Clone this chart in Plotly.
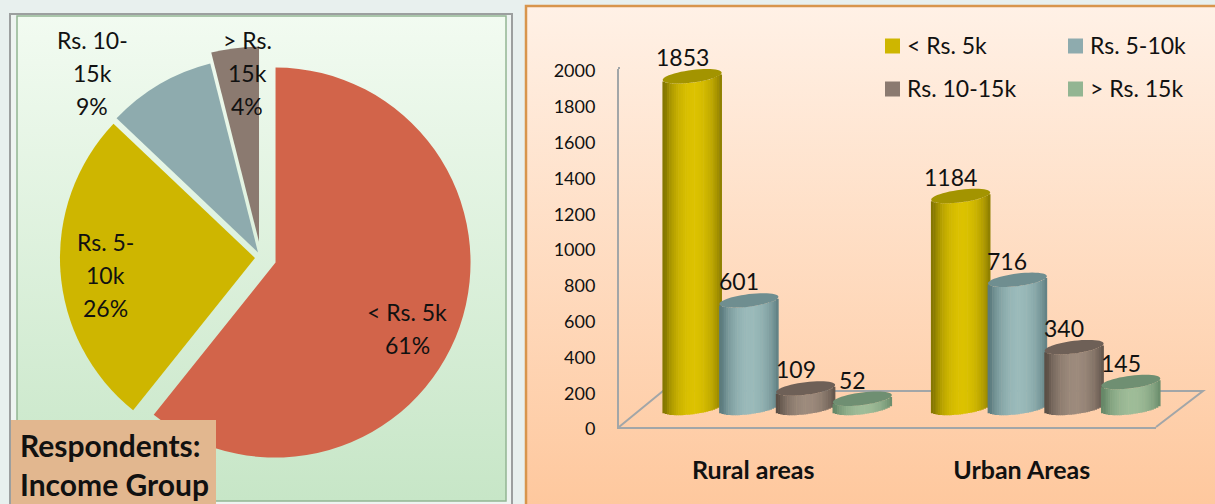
import base64
import math
import plotly.graph_objects as go

# ---------- data ----------
categories = ["Rural areas", "Urban Areas"]
income_groups = ["< Rs. 5k", "Rs. 5-10k", "Rs. 10-15k", "> Rs. 15k"]
rural_values = [1853, 601, 109, 52]
urban_values = [1184, 716, 340, 145]
y_ticks = [0, 200, 400, 600, 800, 1000, 1200, 1400, 1600, 1800, 2000]

pie_slice_colors = ["#D2644A", "#CEB600", "#8EABAE", "#8B7A70"]
bar_edge_colors = ["#857700", "#5B7B7E", "#5B4F46", "#668868"]
bar_mid_colors = ["#DCC200", "#9ABABA", "#9C8A7C", "#9EBC98"]
bar_top_colors = ["#A39400", "#6F8E90", "#6E6057", "#6F8F72"]
legend_colors = ["#CEB600", "#8EABAE", "#8B7A70", "#93B592"]
pie_pulls = [0.079, 0.031, 0.030, 0.082]

W, H = 1215, 504
TEXT = "#111111"
FONT = "Lato"
AXIS_COLOR = "#A2A6A8"


def px(x):
    return x / W


def py(y):
    return 1 - y / H


# ---------- background panels ----------
svg = f"""<svg xmlns="http://www.w3.org/2000/svg" width="{W}" height="{H}">
<defs>
<linearGradient id="g" x1="0" y1="0" x2="0" y2="1"><stop offset="0" stop-color="#F2FBF1"/><stop offset="1" stop-color="#C7E6C7"/></linearGradient>
<linearGradient id="o" x1="0" y1="0" x2="0" y2="1"><stop offset="0" stop-color="#FFF1E6"/><stop offset="1" stop-color="#FEC79C"/></linearGradient>
</defs>
<rect width="{W}" height="{H}" fill="#E8F0EE"/>
<rect x="10" y="14" width="502" height="500" fill="#EEF4F1" stroke="#9C9F9F" stroke-width="2"/>
<rect x="17" y="16" width="489" height="485" fill="url(#g)" stroke="#93B593" stroke-width="1.5"/>
<rect x="526" y="6" width="700" height="510" fill="url(#o)" stroke="#D8954C" stroke-width="2.5"/>
</svg>"""
bg_uri = "data:image/svg+xml;base64," + base64.b64encode(svg.encode()).decode()

fig = go.Figure()

# ---------- pie ----------
totals = [r + u for r, u in zip(rural_values, urban_values)]
pie_r = 195 * (1 + max(pie_pulls))
pie_cx, pie_cy = 261, 257.5
fig.add_trace(go.Pie(
    labels=income_groups, values=totals, sort=False, direction="clockwise", rotation=0,
    pull=pie_pulls, marker=dict(colors=pie_slice_colors, line=dict(width=0)),
    textinfo="none", hoverinfo="label+percent", showlegend=False,
    domain=dict(x=[px(pie_cx - pie_r), px(pie_cx + pie_r)],
                y=[py(pie_cy + pie_r), py(pie_cy - pie_r)]),
))

# ---------- axes geometry ----------
AX_L, AX_R, AX_B, AX_T = 619, 1156, 427, 69   # front plane in pixels
SHIFT_X, SHIFT_Y = 24, 19                     # depth offset of the bars
PX_PER_UNIT_Y = (AX_B - AX_T) / 2000
PX_PER_UNIT_X = (AX_R - AX_L) / 2
Y2_PAD = 200
STEP = 56.7 / PX_PER_UNIT_X
RADIUS = 29.5 / PX_PER_UNIT_X
MINOR = 6.3 / PX_PER_UNIT_Y
RISE = 3.6 / PX_PER_UNIT_Y
N_STRIPS = 26

# axis-holding trace for the visible front plane
fig.add_trace(go.Scatter(x=[None], y=[None], xaxis="x", yaxis="y", showlegend=False, hoverinfo="skip"))


def mix(c1, c2, t):
    a = [int(c1[i:i + 2], 16) for i in (1, 3, 5)]
    b = [int(c2[i:i + 2], 16) for i in (1, 3, 5)]
    return "#" + "".join(f"{round(p + (q - p) * t):02X}" for p, q in zip(a, b))


shapes = []
offsets = [(i - 1.5) * STEP for i in range(4)]

# floor outline and wall top (behind the bars)
floor = [(AX_L, AX_B), (663, 391), (1203, 391), (AX_R, AX_B)]
path = "M" + " L".join(f"{px(x):.5f},{py(y):.5f}" for x, y in floor)
shapes.append(dict(type="path", path=path, xref="paper", yref="paper", layer="below",
                   line=dict(color=AXIS_COLOR, width=2), fillcolor="rgba(0,0,0,0)"))
shapes.append(dict(type="line", xref="paper", yref="paper", layer="below",
                   x0=px(AX_L), x1=px(AX_L), y0=py(AX_T), y1=py(AX_T - 2),
                   line=dict(color=AXIS_COLOR, width=2)))

# ---------- cylinders ----------
for s in range(4):
    vals = [rural_values[s], urban_values[s]]
    for j in range(N_STRIPS):
        u = -1 + (2 * j + 1) / N_STRIPS
        lower = RISE * u - MINOR * math.sqrt(max(0, 1 - u * u))
        light = max(0.0, 1 - ((u - 0.05) / 0.95) ** 2) ** 0.8
        fig.add_trace(go.Bar(
            x=[g + offsets[s] + u * RADIUS for g in range(2)],
            y=vals, base=[lower, lower],
            width=2.5 * RADIUS / N_STRIPS,
            marker=dict(color=mix(bar_edge_colors[s], bar_mid_colors[s], light), line=dict(width=0)),
            xaxis="x2", yaxis="y2", showlegend=False, hoverinfo="skip",
        ))
    for g, v in enumerate(vals):
        pts = []
        for k in range(48):
            t = 2 * math.pi * k / 48
            pts.append((g + offsets[s] + RADIUS * math.cos(t),
                        v + RISE * math.cos(t) + MINOR * math.sin(t)))
        shapes.append(dict(type="path", xref="x2", yref="y2", layer="above",
                           path="M" + " L".join(f"{a:.5f},{b:.2f}" for a, b in pts) + " Z",
                           fillcolor=bar_top_colors[s], line=dict(width=0)))

# ---------- annotations ----------
ann = []


def text_px(x, y, t, size=22, bold=False, align="center"):
    ann.append(dict(x=px(x), y=py(y), xref="paper", yref="paper", text=f"<b>{t}</b>" if bold else t,
                    showarrow=False, xanchor=align, yanchor="middle",
                    font=dict(family=FONT, size=size, color=TEXT)))


# value labels
for s in range(4):
    for g, v in enumerate([rural_values[s], urban_values[s]]):
        ann.append(dict(x=g + offsets[s], y=v, xref="x2", yref="y2", text=str(v), showarrow=False,
                        xshift=-10, yshift=19, xanchor="center", yanchor="middle",
                        font=dict(family=FONT, size=23, color=TEXT)))

# pie labels, one line each (reference line spacing is wider than the default)
shares = [round(100 * t / sum(totals)) for t in totals]
pie_lines = [
    (407, 312, ["< Rs. 5k", f"{shares[0]}%"]),
    (105, 242, ["Rs. 5-", "10k", f"{shares[1]}%"]),
    (92, 40, ["Rs. 10-", "15k", f"{shares[2]}%"]),
    (247, 40, ["> Rs.", "15k", f"{shares[3]}%"]),
]
for x, y, lines in pie_lines:
    for i, line in enumerate(lines):
        text_px(x, y + 33 * i, line, size=23)

# title box
shapes.append(dict(type="rect", xref="paper", yref="paper", layer="above",
                   x0=px(11), x1=px(216), y0=py(504), y1=py(420),
                   fillcolor="#E2B78F", line=dict(width=0)))
text_px(18, 445, "Respondents:", size=30, bold=True, align="left")
text_px(18, 484, "Income Group", size=30, bold=True, align="left")

# legend
legend_pos = [(885, 46), (1068, 46), (885, 89), (1068, 89)]
for (x, y), name, color in zip(legend_pos, income_groups, legend_colors):
    shapes.append(dict(type="rect", xref="paper", yref="paper", layer="above",
                       x0=px(x), x1=px(x + 15), y0=py(y + 7.5), y1=py(y - 7.5),
                       fillcolor=color, line=dict(width=0)))
    text_px(x + 20, y - 1, name, size=23, align="left")

# ---------- layout ----------
fig.update_layout(
    width=W, height=H, autosize=False, margin=dict(l=0, r=0, t=0, b=0, pad=0, autoexpand=False),
    paper_bgcolor="#E8F0EE", plot_bgcolor="rgba(0,0,0,0)", barmode="overlay", showlegend=False,
    font=dict(family=FONT, color=TEXT),
    images=[dict(source=bg_uri, xref="paper", yref="paper", x=0, y=1, sizex=1, sizey=1,
                 xanchor="left", yanchor="top", sizing="stretch", layer="below")],
    shapes=shapes, annotations=ann,
    xaxis=dict(domain=[px(AX_L), px(AX_R)], range=[-0.5, 1.5], tickvals=[0, 1], ticktext=[f"<b>{c}</b>" for c in categories],
               showgrid=False, zeroline=False, showline=True, linecolor=AXIS_COLOR, linewidth=2,
               ticks="", ticklabelstandoff=20, tickfont=dict(family=FONT, size=25, color=TEXT), anchor="y"),
    yaxis=dict(domain=[py(AX_B), py(AX_T)], range=[0, 2000], tickvals=y_ticks,
               showgrid=False, zeroline=False, showline=True, linecolor=AXIS_COLOR, linewidth=2,
               ticks="", ticklabelstandoff=18, ticklabelshift=2, tickfont=dict(family=FONT, size=18, color=TEXT), anchor="x"),
    xaxis2=dict(domain=[px(AX_L + SHIFT_X), px(AX_R + SHIFT_X)], range=[-0.5, 1.5], visible=False, anchor="y2"),
    yaxis2=dict(domain=[py(AX_B - SHIFT_Y + Y2_PAD * PX_PER_UNIT_Y), py(AX_T - SHIFT_Y - Y2_PAD * PX_PER_UNIT_Y)],
                range=[-Y2_PAD, 2000 + Y2_PAD], visible=False, anchor="x2"),
)

fig.write_html("out.html", config={"displayModeBar": False},
               post_script="document.body.style.margin='0';document.body.style.overflow='hidden';")
